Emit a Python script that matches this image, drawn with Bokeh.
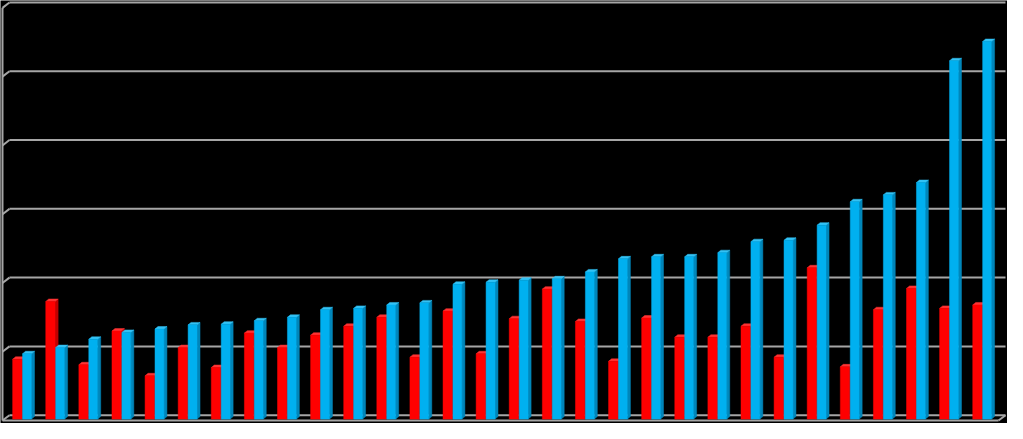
from bokeh.plotting import figure
from bokeh.embed import file_html
from bokeh.resources import INLINE

# ---- data (no labels are shown) ----
groups = list(range(30))
red_values = [8.7, 17.1, 7.9, 12.8, 6.3, 10.4, 7.5, 12.5, 10.4, 12.2,
              13.5, 14.8, 9.0, 15.7, 9.5, 14.6, 18.9, 14.2, 8.4, 14.7,
              11.9, 11.9, 13.5, 9.0, 22.0, 7.6, 15.9, 19.0, 16.1, 16.6]
blue_values = [9.5, 10.4, 11.6, 12.6, 13.1, 13.7, 13.8, 14.3, 14.8, 15.9,
               16.1, 16.6, 16.9, 19.6, 19.9, 20.2, 20.4, 21.4, 23.3, 23.6,
               23.6, 24.2, 25.8, 26.0, 28.2, 31.6, 32.6, 34.4, 52.1, 54.9]
grid_ticks = [0, 10, 20, 30, 40, 50, 60]

# ---- style / geometry ----
W, H = 1007, 423
X0, X1 = -0.657, 29.76
Y0, Y1 = -0.64, 60.86
GRID_COLOR = "#A6A6A6"
RED, RED_SIDE, RED_TOP = "#FF0000", "#C00000", "#FF3333"
BLUE, BLUE_SIDE, BLUE_TOP = "#00B0F0", "#0086BA", "#33C2F5"

# box (walls) depth
wall_left = -0.597
box_dx, box_dy = 0.21, 0.78
floor_front = -0.21
wall_right_back = 29.70

# bar geometry (relative to group position)
red_off = (-0.29, -0.006)
blue_off = (0.010, 0.28)
bar_dx, bar_dy = 0.09, 0.36

p = figure(width=W, height=H, x_range=(X0, X1), y_range=(Y0, Y1),
           output_backend="svg", toolbar_location=None,
           background_fill_color="black", border_fill_color="black",
           min_border=0, min_border_left=0, min_border_right=0,
           min_border_top=0, min_border_bottom=0)
p.outline_line_color = None
p.axis.visible = False
p.grid.visible = False

# back-wall gridlines
gx0 = [wall_left + box_dx for _ in grid_ticks]
gx1 = [wall_right_back for _ in grid_ticks]
gy = [t + floor_front + box_dy for t in grid_ticks]
p.segment(x0=gx0, y0=gy, x1=gx1, y1=gy, line_color=GRID_COLOR, line_width=2)

# left wall: diagonals at each gridline + front vertical edge
dx0 = [wall_left for _ in grid_ticks]
dy0 = [t + floor_front for t in grid_ticks]
p.segment(x0=dx0, y0=dy0, x1=gx0, y1=gy, line_color=GRID_COLOR, line_width=2)
p.segment(x0=[wall_left], y0=[floor_front], x1=[wall_left],
          y1=[grid_ticks[-1] + floor_front], line_color=GRID_COLOR, line_width=2)
# floor front edge and right diagonal
p.segment(x0=[wall_left], y0=[floor_front], x1=[wall_right_back - box_dx],
          y1=[floor_front], line_color=GRID_COLOR, line_width=2)
p.segment(x0=[wall_right_back - box_dx], y0=[floor_front], x1=[wall_right_back],
          y1=[floor_front + box_dy], line_color=GRID_COLOR, line_width=2)


def draw_bars(values, off, front, side, top):
    lefts = [g + off[0] for g in groups]
    rights = [g + off[1] for g in groups]
    side_xs = [[r, r + bar_dx, r + bar_dx, r] for r in rights]
    side_ys = [[0, bar_dy, v + bar_dy, v] for v in values]
    top_xs = [[l, r, r + bar_dx, l + bar_dx] for l, r in zip(lefts, rights)]
    top_ys = [[v, v, v + bar_dy, v + bar_dy] for v in values]
    p.patches(xs=side_xs, ys=side_ys, fill_color=side, line_color=side, line_width=0.5)
    p.patches(xs=top_xs, ys=top_ys, fill_color=top, line_color=top, line_width=0.5)
    p.quad(left=lefts, right=rights, bottom=[0] * len(values), top=values,
           fill_color=front, line_color=front, line_width=0.5)


draw_bars(red_values, red_off, RED, RED_SIDE, RED_TOP)
draw_bars(blue_values, blue_off, BLUE, BLUE_SIDE, BLUE_TOP)

open("out.html", "w").write(file_html(p, INLINE))
